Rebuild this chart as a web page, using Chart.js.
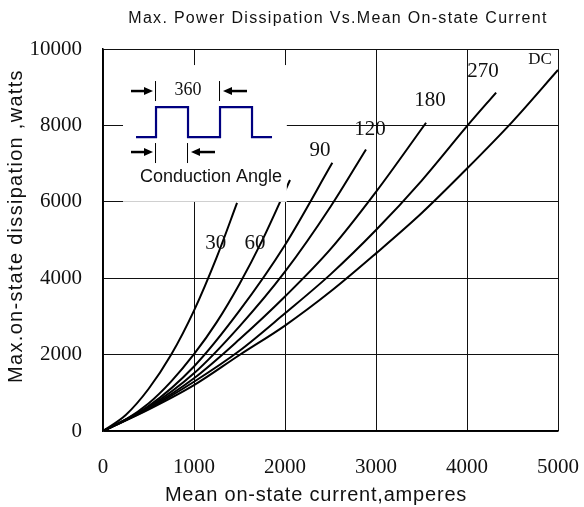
<!DOCTYPE html>
<html>
<head>
<meta charset="utf-8">
<style>
  html, body { margin: 0; padding: 0; background: #fff; }
</style>
<script src="https://cdn.jsdelivr.net/npm/chart.js@4.4.0/dist/chart.umd.min.js"></script>
</head>
<body>
<canvas id="my-chart" width="584" height="507"></canvas>
<script>
'use strict';

// *** DATA ***

let xTicks = [0, 1000, 2000, 3000, 4000, 5000];
let yTicks = [0, 2000, 4000, 6000, 8000, 10000];

let curveNames = ['30', '60', '90', '120', '180', '270', 'DC'];

let current30 = [0, 250, 500, 750, 1000, 1250, 1473];
let power30 = [0, 420, 1100, 2000, 3150, 4550, 5970];

let current60 = [0, 250, 500, 750, 1000, 1250, 1500, 1750, 2055];
let power60 = [0, 300, 720, 1300, 2010, 2850, 3850, 4990, 6570];

let current90 = [0, 500, 1000, 1500, 2000, 2520];
let power90 = [0, 650, 1690, 3150, 4870, 7020];

let current120 = [0, 500, 1000, 1500, 2000, 2500, 2890];
let power120 = [0, 620, 1510, 2740, 4170, 5870, 7370];

let current180 = [0, 500, 1000, 1500, 2000, 2500, 3000, 3550];
let power180 = [0, 600, 1380, 2400, 3520, 4760, 6260, 8070];

let current270 = [0, 500, 1000, 1500, 2000, 2500, 3000, 3500, 4000, 4320];
let power270 = [0, 580, 1290, 2100, 3080, 4100, 5260, 6550, 7980, 8860];

let currentDC = [0, 500, 1000, 1500, 2000, 2500, 3000, 3500, 4000, 4500, 5000];
let powerDC = [0, 560, 1200, 1990, 2760, 3650, 4650, 5700, 6870, 8100, 9450];

// where each curve name sits (in amperes / watts)
let labelCurrent = [1240, 1670, 2385, 2934, 3593, 4176, 4802];
let labelPower = [4900, 4900, 7350, 7880, 8660, 9400, 9720];

// inset box corners (amperes / watts)
let insetCurrent = [220, 2020];
let insetPower = [6000, 9580];

// *** HELPERS ***

function toPoints(xs, ys) {
  let pts = [];
  for (let i = 0; i < xs.length; i++) {
    pts.push({ x: xs[i], y: ys[i] });
  }
  return pts;
}

let allCurrents = [current30, current60, current90, current120, current180, current270, currentDC];
let allPowers = [power30, power60, power90, power120, power180, power270, powerDC];

let datasets = [];
for (let i = 0; i < curveNames.length; i++) {
  datasets.push({
    label: curveNames[i],
    data: toPoints(allCurrents[i], allPowers[i]),
    showLine: true,
    borderColor: '#000',
    borderWidth: 2,
    pointRadius: 0,
    cubicInterpolationMode: 'monotone',
    fill: false
  });
}

function drawArrow(ctx, x1, y, x2) {
  let dir = x2 > x1 ? 1 : -1;
  ctx.beginPath();
  ctx.moveTo(x1, y);
  ctx.lineTo(x2 - dir * 6, y);
  ctx.lineWidth = 2.5;
  ctx.stroke();
  ctx.beginPath();
  ctx.moveTo(x2, y);
  ctx.lineTo(x2 - dir * 9, y - 4);
  ctx.lineTo(x2 - dir * 9, y + 4);
  ctx.closePath();
  ctx.fill();
}

function drawBar(ctx, x, y1, y2) {
  ctx.beginPath();
  ctx.moveTo(x + 0.5, y1);
  ctx.lineTo(x + 0.5, y2);
  ctx.lineWidth = 1;
  ctx.stroke();
}

// *** PLUGIN: inset, curve names and titles ***

let extras = {
  id: 'extras',
  afterDatasetsDraw(chart) {
    let ctx = chart.ctx;
    let xs = chart.scales.x;
    let ys = chart.scales.y;

    // inset
    let bx = xs.getPixelForValue(insetCurrent[0]);
    let bx2 = xs.getPixelForValue(insetCurrent[1]);
    let by = ys.getPixelForValue(insetPower[1]);
    let by2 = ys.getPixelForValue(insetPower[0]);
    ctx.save();
    ctx.fillStyle = '#fff';
    ctx.fillRect(bx, by, bx2 - bx, by2 - by);

    ctx.strokeStyle = '#000080';
    ctx.lineWidth = 2.2;
    ctx.beginPath();
    ctx.moveTo(bx + 13, by + 72);
    ctx.lineTo(bx + 33, by + 72);
    ctx.lineTo(bx + 33, by + 42);
    ctx.lineTo(bx + 65, by + 42);
    ctx.lineTo(bx + 65, by + 72);
    ctx.lineTo(bx + 97, by + 72);
    ctx.lineTo(bx + 97, by + 42);
    ctx.lineTo(bx + 129, by + 42);
    ctx.lineTo(bx + 129, by + 72);
    ctx.lineTo(bx + 149, by + 72);
    ctx.stroke();

    ctx.strokeStyle = '#000';
    ctx.fillStyle = '#000';
    drawBar(ctx, bx + 32, by + 16, by + 36);
    drawBar(ctx, bx + 96, by + 16, by + 36);
    drawArrow(ctx, bx + 8, by + 26, bx + 30);
    drawArrow(ctx, bx + 124, by + 26, bx + 100);
    drawBar(ctx, bx + 32, by + 78, by + 98);
    drawBar(ctx, bx + 64, by + 78, by + 98);
    drawArrow(ctx, bx + 8, by + 87, bx + 30);
    drawArrow(ctx, bx + 92, by + 87, bx + 68);

    ctx.textAlign = 'center';
    ctx.textBaseline = 'middle';
    ctx.font = '18px "Liberation Serif"';
    ctx.fillStyle = '#111';
    ctx.fillText('360', bx + 65, by + 25);
    ctx.font = '18px "Liberation Sans"';
    ctx.fillText('Conduction Angle', bx + 88, by + 112);

    // curve names
    for (let i = 0; i < curveNames.length; i++) {
      ctx.font = curveNames[i] === 'DC' ? '17px "Liberation Serif"' : '21px "Liberation Serif"';
      ctx.fillText(curveNames[i], xs.getPixelForValue(labelCurrent[i]), ys.getPixelForValue(labelPower[i]));
    }

    // titles
    ctx.font = '16px "Liberation Sans"';
    ctx.letterSpacing = '1.3px';
    ctx.fillText('Max. Power Dissipation Vs.Mean On-state Current', 338, 19);
    ctx.font = '20px "Liberation Sans"';
    ctx.letterSpacing = '0.8px';
    ctx.fillText('Mean on-state current,amperes', 316, 495);
    ctx.letterSpacing = '1.3px';
    ctx.translate(16, 226);
    ctx.rotate(-Math.PI / 2);
    ctx.fillText('Max.on-state dissipation ,watts', 0, 0);
    ctx.restore();
  }
};

// *** CHART ***

let canvasElem = document.getElementById('my-chart');

function plainTick(value) {
  return String(value);
}

new Chart(canvasElem, {
  type: 'scatter',
  data: { datasets: datasets },
  plugins: [extras],
  options: {
    responsive: false,
    animation: false,
    layout: { padding: { top: 49, right: 26, left: 0, bottom: 0 } },
    plugins: {
      legend: { display: false },
      tooltip: { enabled: false },
      title: { display: false }
    },
    scales: {
      x: {
        type: 'linear',
        min: 0,
        max: 5000,
        afterFit: function (scale) {
          scale.height = 76;
          scale.paddingLeft = 0;
          scale.paddingRight = 0;
        },
        afterBuildTicks: function (scale) {
          scale.ticks = xTicks.map(function (v) { return { value: v }; });
        },
        grid: { color: '#111', lineWidth: 1, drawTicks: false },
        border: { color: '#000', width: 1.5 },
        ticks: {
          padding: 24,
          color: '#111',
          callback: plainTick,
          font: { family: 'Liberation Serif', size: 21 }
        }
      },
      y: {
        type: 'linear',
        min: 0,
        max: 10000,
        afterFit: function (scale) {
          scale.width = 103;
          scale.paddingTop = 0;
          scale.paddingBottom = 0;
        },
        afterBuildTicks: function (scale) {
          scale.ticks = yTicks.map(function (v) { return { value: v }; });
        },
        grid: { color: '#111', lineWidth: 1, drawTicks: false },
        border: { color: '#000', width: 1.5 },
        ticks: {
          padding: 21,
          color: '#111',
          callback: plainTick,
          font: { family: 'Liberation Serif', size: 21 }
        }
      }
    }
  }
});
</script>
</body>
</html>
